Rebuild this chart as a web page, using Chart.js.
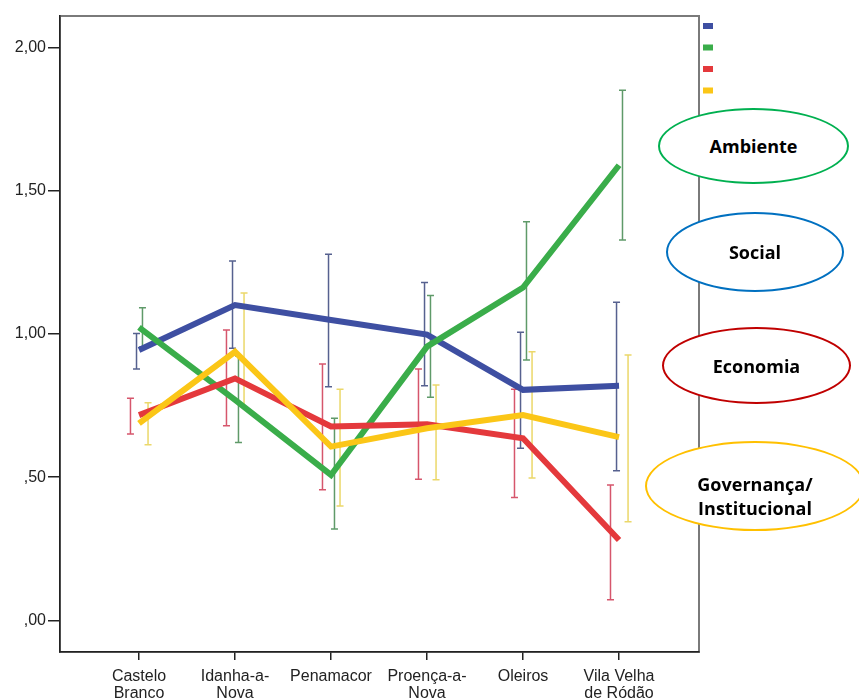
<!DOCTYPE html>
<html lang="pt">
<head>
<meta charset="utf-8">
<title>Dimensões por concelho</title>
<script src="https://cdn.jsdelivr.net/npm/chart.js@4.4.1/dist/chart.umd.min.js"></script>
<style>
    html, body { margin: 0; padding: 0; background: #fff; }
    #wrap { position: relative; width: 859px; height: 699px; overflow: hidden; }
    .bubble {
        position: absolute;
        box-sizing: border-box;
        border: 2px solid;
        border-radius: 50%;
        background: #fff;
        display: flex;
        align-items: center;
        justify-content: center;
        text-align: center;
        font-family: "Open Sans", sans-serif;
        font-weight: 700;
        font-size: 18px;
        line-height: 24px;
        color: #000;
    }
</style>
</head>
<body>
<div id="wrap">
    <canvas id="grafico"></canvas>
    <div class="bubble" style="left:658px; top:108px; width:191px; height:76px; border-color:#00b050;">Ambiente</div>
    <div class="bubble" style="left:666px; top:212px; width:178px; height:80px; border-color:#0070c0;">Social</div>
    <div class="bubble" style="left:662px; top:327px; width:189px; height:77px; border-color:#c00000;">Economia</div>
    <div class="bubble" style="left:645px; top:441px; width:220px; height:90px; border-color:#ffc000; padding-top:20px;">Governança/<br>Institucional</div>
</div>

<script>
// Concelhos (eixo X)
const concelhos = [
    ['Castelo', 'Branco'],
    ['Idanha-a-', 'Nova'],
    'Penamacor',
    ['Proença-a-', 'Nova'],
    'Oleiros',
    ['Vila Velha', 'de Ródão']
];

// Eixo Y
const yTicks = [0, 0.5, 1, 1.5, 2];
const yTickLabels = [',00', ',50', '1,00', '1,50', '2,00'];

// Médias por dimensão
const social = [0.944, 1.101, 1.049, 0.998, 0.805, 0.819];
const ambiente = [1.023, 0.770, 0.508, 0.956, 1.162, 1.589];
const economia = [0.717, 0.845, 0.677, 0.685, 0.636, 0.281];
const governanca = [0.688, 0.938, 0.607, 0.671, 0.717, 0.640];

// Intervalos de confiança (inferior / superior)
const socialLo = [0.878, 0.950, 0.816, 0.819, 0.601, 0.523];
const socialHi = [1.002, 1.255, 1.278, 1.180, 1.006, 1.111];
const ambienteLo = [0.955, 0.621, 0.319, 0.779, 0.909, 1.328];
const ambienteHi = [1.092, 0.923, 0.706, 1.134, 1.392, 1.851];
const economiaLo = [0.651, 0.680, 0.456, 0.493, 0.429, 0.072];
const economiaHi = [0.776, 1.014, 0.895, 0.878, 0.807, 0.473];
const governancaLo = [0.613, 0.746, 0.400, 0.491, 0.497, 0.345];
const governancaHi = [0.760, 1.143, 0.807, 0.822, 0.938, 0.927];

const pontos = values => values.map((v, i) => ({ x: i, y: v }));

function serie(label, values, lo, hi, color, barColor, shift, order) {
    return {
        label,
        data: pontos(values),
        errLo: lo,
        errHi: hi,
        errColor: barColor,
        errShift: shift,
        borderColor: color,
        backgroundColor: color,
        borderWidth: 6,
        pointRadius: 0,
        tension: 0,
        order
    };
}

// Barras de erro desenhadas por baixo das linhas
const errorBars = {
    id: 'errorBars',
    beforeDatasetsDraw(chart) {
        const { ctx, scales: { x, y } } = chart;
        ctx.save();
        ctx.lineWidth = 1.5;
        chart.data.datasets.forEach(ds => {
            ctx.strokeStyle = ds.errColor;
            ds.errLo.forEach((lo, i) => {
                const px = x.getPixelForValue(i + ds.errShift);
                const yLo = y.getPixelForValue(lo);
                const yHi = y.getPixelForValue(ds.errHi[i]);
                ctx.beginPath();
                ctx.moveTo(px, yLo);
                ctx.lineTo(px, yHi);
                ctx.moveTo(px - 3.5, yLo);
                ctx.lineTo(px + 3.5, yLo);
                ctx.moveTo(px - 3.5, yHi);
                ctx.lineTo(px + 3.5, yHi);
                ctx.stroke();
            });
        });
        ctx.restore();
    }
};

// Moldura cinzenta (topo e direita) e amostras de cor da legenda
const moldura = {
    id: 'moldura',
    beforeDraw(chart) {
        const { ctx, chartArea: a } = chart;
        ctx.save();
        ctx.strokeStyle = '#7a7a7a';
        ctx.lineWidth = 2;
        ctx.strokeRect(a.left, a.top, a.right - a.left, a.bottom - a.top);
        ctx.restore();
    },
    afterDraw(chart) {
        const { ctx, chartArea: a } = chart;
        ctx.save();
        chart.data.datasets.forEach((ds, i) => {
            ctx.fillStyle = ds.borderColor;
            ctx.fillRect(a.right + 4, a.top + 7 + i * 21.5, 10, 6);
        });
        ctx.restore();
    }
};

const eixoFonte = { family: '"Liberation Sans", Arial, sans-serif', size: 16 };

new Chart(document.getElementById('grafico'), {
    type: 'line',
    data: {
        datasets: [
            serie('Social', social, socialLo, socialHi, '#3e4fa2', '#56618f', -0.026, 4),
            serie('Ambiente', ambiente, ambienteLo, ambienteHi, '#3aad4a', '#5f9a69', 0.036, 3),
            serie('Economia', economia, economiaLo, economiaHi, '#e4393c', '#d6566c', -0.089, 2),
            serie('Governança/Institucional', governanca, governancaLo, governancaHi, '#fbc617', '#ebd86a', 0.094, 1)
        ]
    },
    options: {
        responsive: true,
        maintainAspectRatio: false,
        animation: false,
        layout: { padding: { top: 16, right: 160, left: 0, bottom: 0 } },
        plugins: {
            legend: { display: false },
            tooltip: { enabled: false }
        },
        scales: {
            x: {
                type: 'linear',
                min: -0.823,
                max: 5.833,
                afterBuildTicks: scale => { scale.ticks = concelhos.map((_, i) => ({ value: i })); },
                afterFit: scale => { scale.height = 47; },
                grid: { drawOnChartArea: false, tickLength: 8, color: '#222', lineWidth: 1.5 },
                border: { color: '#222', width: 1.5 },
                ticks: {
                    color: '#222',
                    font: { ...eixoFonte, lineHeight: 1.05 },
                    padding: 8,
                    maxRotation: 0,
                    autoSkip: false,
                    callback: v => concelhos[v]
                }
            },
            y: {
                min: -0.11,
                max: 2.11,
                afterBuildTicks: scale => { scale.ticks = yTicks.map(v => ({ value: v })); },
                afterFit: scale => { scale.width = 60; },
                grid: { drawOnChartArea: false, tickLength: 12, color: '#222', lineWidth: 1.5 },
                border: { color: '#222', width: 1.5 },
                ticks: {
                    color: '#222',
                    font: eixoFonte,
                    padding: 2,
                    callback: v => yTickLabels[yTicks.indexOf(v)]
                }
            }
        }
    },
    plugins: [errorBars, moldura]
});
</script>
</body>
</html>
